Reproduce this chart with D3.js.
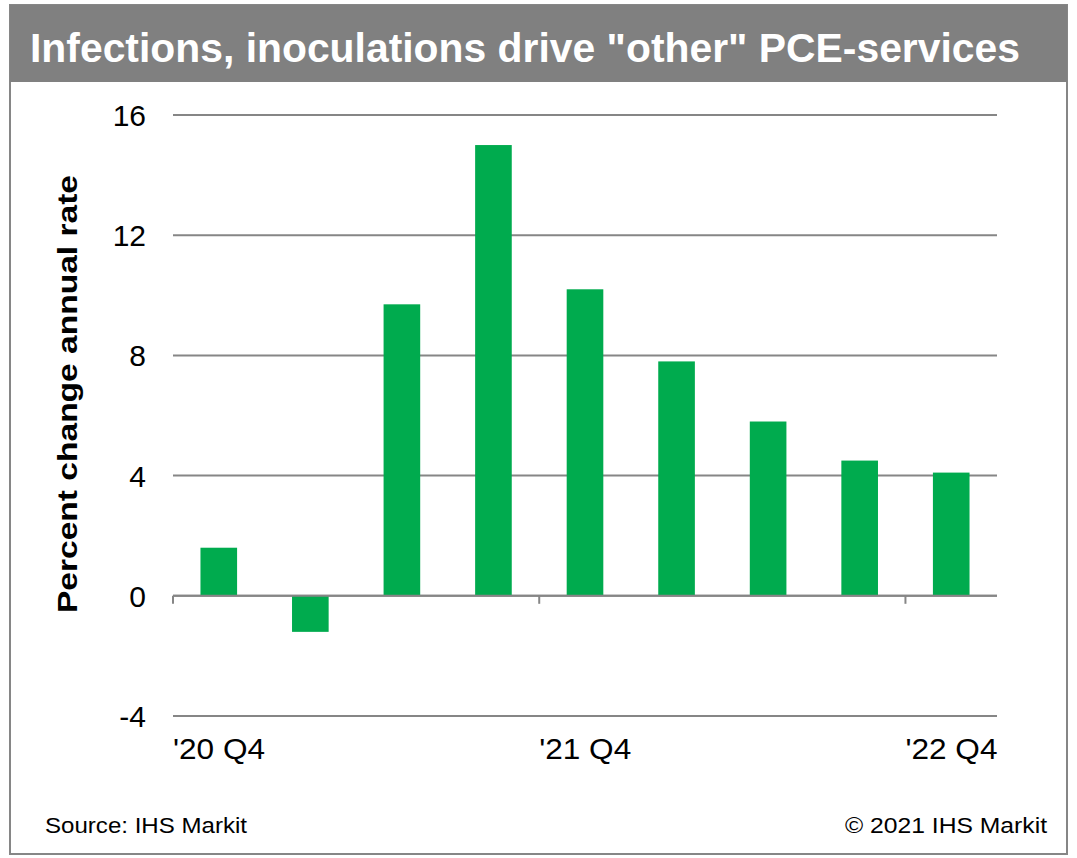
<!DOCTYPE html>
<html>
<head>
<meta charset="utf-8">
<script src="https://cdn.jsdelivr.net/npm/d3@7"></script>
<style>
  body { margin: 0; background: #fff; }
  text { font-family: "Liberation Sans", Arial, sans-serif; }
</style>
</head>
<body>
<svg id="chart" width="1077" height="858"></svg>
<script>
// chart data
const quarters = ["'20 Q4", "'21 Q1", "'21 Q2", "'21 Q3", "'21 Q4", "'22 Q1", "'22 Q2", "'22 Q3", "'22 Q4"];
const values = [1.6, -1.2, 9.7, 15.0, 10.2, 7.8, 5.8, 4.5, 4.1];
const yTicks = [-4, 0, 4, 8, 12, 16];
const labelledQuarters = ["'20 Q4", "'21 Q4", "'22 Q4"];

const svg = d3.select("#chart");
const grey = "#868686";

// frame + title bar
svg.append("rect")
  .attr("x", 10).attr("y", 5).attr("width", 1057).attr("height", 849)
  .attr("fill", "#fff").attr("stroke", grey).attr("stroke-width", 2);
svg.append("rect")
  .attr("x", 10).attr("y", 5).attr("width", 1057).attr("height", 77)
  .attr("fill", "#808080");
svg.append("text")
  .attr("x", 30).attr("y", 62)
  .attr("fill", "#fff")
  .attr("font-size", 41).attr("font-weight", "bold")
  .attr("textLength", 990).attr("lengthAdjust", "spacingAndGlyphs")
  .text('Infections, inoculations drive "other" PCE-services');

const left = 173, right = 997;
const x = d3.scaleBand().domain(quarters).range([left, right]).paddingInner(0.6).paddingOuter(0.3);
const y = d3.scaleLinear().domain([-4, 16]).range([716, 115]);

// gridlines
svg.append("g").selectAll("line")
  .data(yTicks)
  .join("line")
  .attr("x1", left).attr("x2", right)
  .attr("y1", d => y(d)).attr("y2", d => y(d))
  .attr("stroke", grey).attr("stroke-width", 2);

// y tick labels
svg.append("g").selectAll("text")
  .data(yTicks)
  .join("text")
  .attr("x", 146).attr("y", d => y(d) + 11)
  .attr("text-anchor", "end")
  .attr("font-size", 30)
  .text(d => d);

// bars
svg.append("g").selectAll("rect")
  .data(values)
  .join("rect")
  .attr("x", (d, i) => x(quarters[i]))
  .attr("width", x.bandwidth())
  .attr("y", d => y(Math.max(0, d)))
  .attr("height", d => Math.abs(y(d) - y(0)))
  .attr("fill", "#00ab4e");

// zero axis with tick marks between categories
const step = x.step();
const tickX = labelledQuarters.map(q => x(q) - (step - x.bandwidth()) / 2);
svg.append("line")
  .attr("x1", left).attr("x2", right)
  .attr("y1", y(0)).attr("y2", y(0))
  .attr("stroke", grey).attr("stroke-width", 2);
svg.append("g").selectAll("line")
  .data(tickX)
  .join("line")
  .attr("x1", d => d).attr("x2", d => d)
  .attr("y1", y(0)).attr("y2", y(0) + 8)
  .attr("stroke", grey).attr("stroke-width", 2);

// x labels
svg.append("g").selectAll("text")
  .data(labelledQuarters)
  .join("text")
  .attr("x", (d, i) => tickX[i])
  .attr("y", 759)
  .attr("font-size", 30)
  .attr("textLength", 92).attr("lengthAdjust", "spacingAndGlyphs")
  .text(d => d);

// y axis title
svg.append("text")
  .attr("transform", "translate(77,394) rotate(-90)")
  .attr("text-anchor", "middle")
  .attr("font-size", 28).attr("font-weight", "bold")
  .attr("textLength", 438).attr("lengthAdjust", "spacingAndGlyphs")
  .text("Percent change annual rate");

// footer
svg.append("text")
  .attr("x", 45).attr("y", 833)
  .attr("font-size", 22)
  .attr("textLength", 202).attr("lengthAdjust", "spacingAndGlyphs")
  .text("Source:  IHS Markit");
svg.append("text")
  .attr("x", 845).attr("y", 833)
  .attr("font-size", 22)
  .attr("textLength", 202).attr("lengthAdjust", "spacingAndGlyphs")
  .text("\u00a9 2021  IHS Markit");
</script>
</body>
</html>
